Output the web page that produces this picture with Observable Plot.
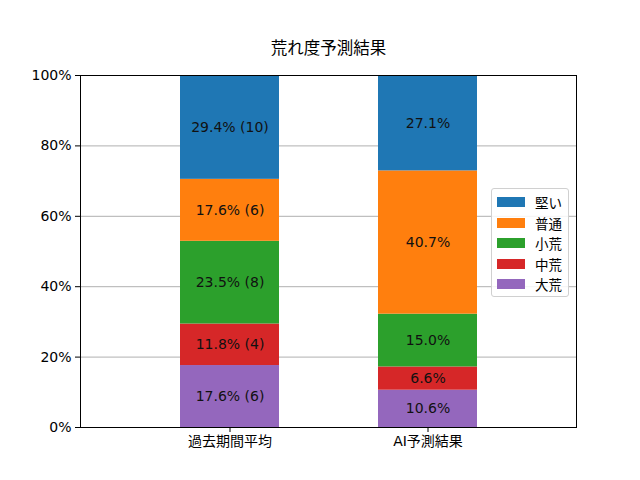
<!DOCTYPE html>
<html><head><meta charset="utf-8">
<script src="https://cdn.jsdelivr.net/npm/d3@7"></script>
<script src="https://cdn.jsdelivr.net/npm/@observablehq/plot@0.6"></script>
<style>
body{margin:0;background:#fff;}
#wrap{position:relative;width:640px;height:480px;font-family:"DejaVu Sans","Noto Sans CJK JP",sans-serif;}
#legend{position:absolute;left:491px;top:188px;width:78px;height:109px;border:1px solid #d0d0d0;border-radius:3px;background:rgba(255,255,255,0.85);box-sizing:border-box;padding-top:3px;}
.row{display:flex;align-items:center;height:20.5px;font-size:13.5px;color:#000;font-family:"Noto Sans CJK JP",sans-serif;}
.sw{width:28px;height:10px;margin-left:5px;margin-right:10px;}
</style>
</head><body>
<div id="wrap"></div>
<script>
const title = "荒れ度予測結果";
const groups = ["過去期間平均", "AI予測結果"];
const types = ["大荒", "中荒", "小荒", "普通", "堅い"]; // bottom to top
const colors = ["#9467bd", "#d62728", "#2ca02c", "#ff7f0e", "#1f77b4"];
const pastPct = [17.6, 11.8, 23.5, 17.6, 29.4];
const pastCount = [6, 4, 8, 6, 10];
const aiPct = [10.6, 6.6, 15.0, 40.7, 27.1];
const yTicks = [0, 20, 40, 60, 80, 100];

const rows = [];
function addGroup(g, pcts, counts) {
  let acc = 0;
  pcts.forEach((v, i) => {
    const y1 = acc, y2 = acc + v;
    acc = y2;
    rows.push({
      group: g, type: types[i], y1, y2, mid: (y1 + y2) / 2,
      label: v.toFixed(1) + "%" + (counts ? " (" + counts[i] + ")" : "")
    });
  });
}
addGroup(groups[0], pastPct, pastCount);
addGroup(groups[1], aiPct, null);
const font = '"DejaVu Sans","Noto Sans CJK JP",sans-serif';

const chart = Plot.plot({
  width: 640, height: 480,
  marginLeft: 80, marginRight: 64, marginTop: 75, marginBottom: 53,
  style: {fontFamily: font, fontSize: "14px", color: "#000", background: "#fff"},
  x: {domain: groups, padding: 0.5, label: null, tickSize: 5, tickPadding: 4},
  y: {domain: [0, 100], ticks: yTicks, tickFormat: d => d + "%", label: null, tickSize: 5, tickPadding: 4},
  color: {domain: types, range: colors},
  marks: [
    Plot.gridY(yTicks, {stroke: "#b0b0b0", strokeOpacity: 1, strokeWidth: 1}),
    Plot.barY(rows, {x: "group", y1: "y1", y2: d => Math.min(d.y2, 100), fill: "type"}),
    Plot.text(rows, {x: "group", y: "mid", text: "label", fill: "#111", fontSize: 14}),
    Plot.axisX({tickSize: 5, fontSize: 14}),
    Plot.axisY({ticks: yTicks, tickFormat: d => d + "%", tickSize: 5, fontSize: 14}),
    Plot.frame({stroke: "#000", strokeWidth: 1}),
    Plot.text([title], {frameAnchor: "top", dy: -33, fontSize: 16.5, fill: "#000"})
  ]
});
const wrap = document.getElementById("wrap");
wrap.appendChild(chart);

const legend = document.createElement("div");
legend.id = "legend";
const legendOrder = [...types].reverse();
legendOrder.forEach(t => {
  const r = document.createElement("div"); r.className = "row";
  const s = document.createElement("div"); s.className = "sw";
  s.style.background = colors[types.indexOf(t)];
  const l = document.createElement("span"); l.textContent = t;
  r.appendChild(s); r.appendChild(l); legend.appendChild(r);
});
wrap.appendChild(legend);
</script>
</body></html>
